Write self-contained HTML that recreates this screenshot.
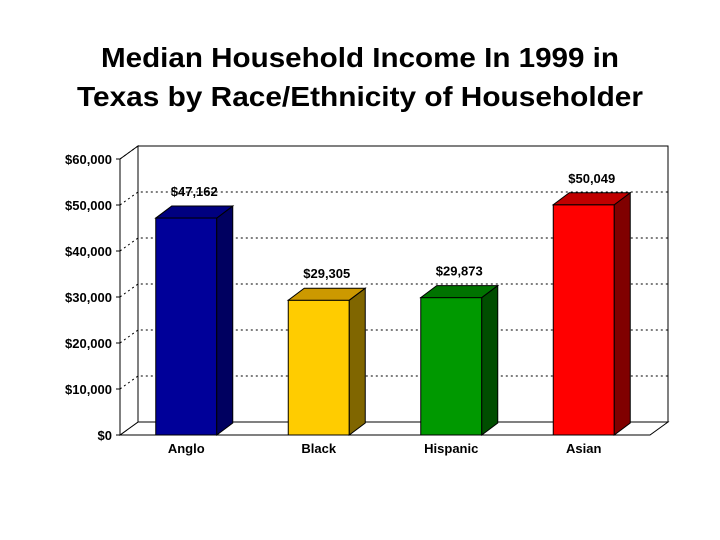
<!DOCTYPE html>
<html><head><meta charset="utf-8"><style>
html,body{margin:0;padding:0;background:#fff;}
svg{display:block;font-family:"Liberation Sans",Arial,sans-serif;}
</style></head><body>
<svg id="chart" width="720" height="540" viewBox="0 0 720 540">
<text x="360" y="67" text-anchor="middle" font-size="28" font-weight="bold" textLength="518" lengthAdjust="spacingAndGlyphs">Median Household Income In 1999 in</text>
<text x="360" y="106" text-anchor="middle" font-size="28" font-weight="bold" textLength="566" lengthAdjust="spacingAndGlyphs">Texas by Race/Ethnicity of Householder</text>
<g id="plot"></g>
</svg>
<script>
const categories = ["Anglo", "Black", "Hispanic", "Asian"];
const values = [47162, 29305, 29873, 50049];
const valueLabels = ["$47,162", "$29,305", "$29,873", "$50,049"];
const tickValues = [0, 10000, 20000, 30000, 40000, 50000, 60000];
const tickLabels = ["$0", "$10,000", "$20,000", "$30,000", "$40,000", "$50,000", "$60,000"];
const frontColors = ["#000099", "#ffcc00", "#009900", "#ff0000"];
const sideColors = ["#000060", "#806600", "#004d00", "#800000"];
const topColors = ["#000080", "#cc9900", "#007300", "#c00000"];

const NS = "http://www.w3.org/2000/svg";
const g = document.getElementById("plot");
const x0 = 120, x1 = 650, y0 = 435, ymax = 60000, pxPerUnit = 276 / 60000;
const DX = 18, DY = 13, BDX = 16, BDY = 12, barW = 61;
function yScale(v) { return y0 - v * pxPerUnit; }
function xCenter(i) { return x0 + (x1 - x0) / categories.length * (i + 0.5); }
function mk(tag, attrs, parent) {
  const e = document.createElementNS(NS, tag);
  for (const k in attrs) e.setAttribute(k, attrs[k]);
  (parent || g).appendChild(e);
  return e;
}
// back wall
const wall = mk("rect", {x: x0 + DX, y: yScale(ymax) - DY, width: x1 - x0, height: y0 - yScale(ymax), fill: "#fff", stroke: "#000", "stroke-width": 1});


// floor
const floor = mk("polygon", {points: `${x0},${y0} ${x1},${y0} ${x1 + DX},${y0 - DY} ${x0 + DX},${y0 - DY}`, fill: "#fff", stroke: "#000", "stroke-width": 1});


// left side wall
const lw = mk("polygon", {points: `${x0},${y0} ${x0},${yScale(ymax)} ${x0 + DX},${yScale(ymax) - DY} ${x0 + DX},${y0 - DY}`, fill: "#fff", stroke: "#000", "stroke-width": 1});


// gridlines and ticks
tickValues.forEach((v, i) => {
  const y = yScale(v);
  if (v > 0) {
    const gl = mk("polyline", {points: `${x0},${y} ${x0 + DX},${y - DY} ${x1 + DX},${y - DY}`, fill: "none", stroke: "#000", "stroke-width": 1, "stroke-dasharray": "2,3"});
    
    
  }
  const tk = mk("line", {x1: x0 - 4, y1: y, x2: x0, y2: y, stroke: "#000"});
  
  
  const t = mk("text", {x: x0 - 8, y: y + 5, "text-anchor": "end", "font-size": 13, "font-weight": "bold"});
  t.textContent = tickLabels[i];
  
  
});
const ax = mk("line", {x1: x0, y1: y0, x2: x0, y2: yScale(ymax), stroke: "#000"});


// bars
categories.forEach((c, i) => {
  const cx = xCenter(i), l = cx - barW / 2, r = cx + barW / 2, top = yScale(values[i]);
  const bg = mk("g", {});
  
  
  mk("rect", {x: l, y: top, width: barW, height: y0 - top, fill: frontColors[i], stroke: "#000", "stroke-width": 1}, bg);
  mk("polygon", {points: `${r},${y0} ${r},${top} ${r + BDX},${top - BDY} ${r + BDX},${y0 - BDY}`, fill: sideColors[i], stroke: "#000", "stroke-width": 1}, bg);
  mk("polygon", {points: `${l},${top} ${r},${top} ${r + BDX},${top - BDY} ${l + BDX},${top - BDY}`, fill: topColors[i], stroke: "#000", "stroke-width": 1}, bg);
  const vl = mk("text", {x: cx + 8, y: top - BDY - 10, "text-anchor": "middle", "font-size": 13, "font-weight": "bold"});
  vl.textContent = valueLabels[i];
  
  
  const cl = mk("text", {x: cx, y: y0 + 18, "text-anchor": "middle", "font-size": 13, "font-weight": "bold"});
  cl.textContent = c;
  
  
});
</script>
</body></html>
